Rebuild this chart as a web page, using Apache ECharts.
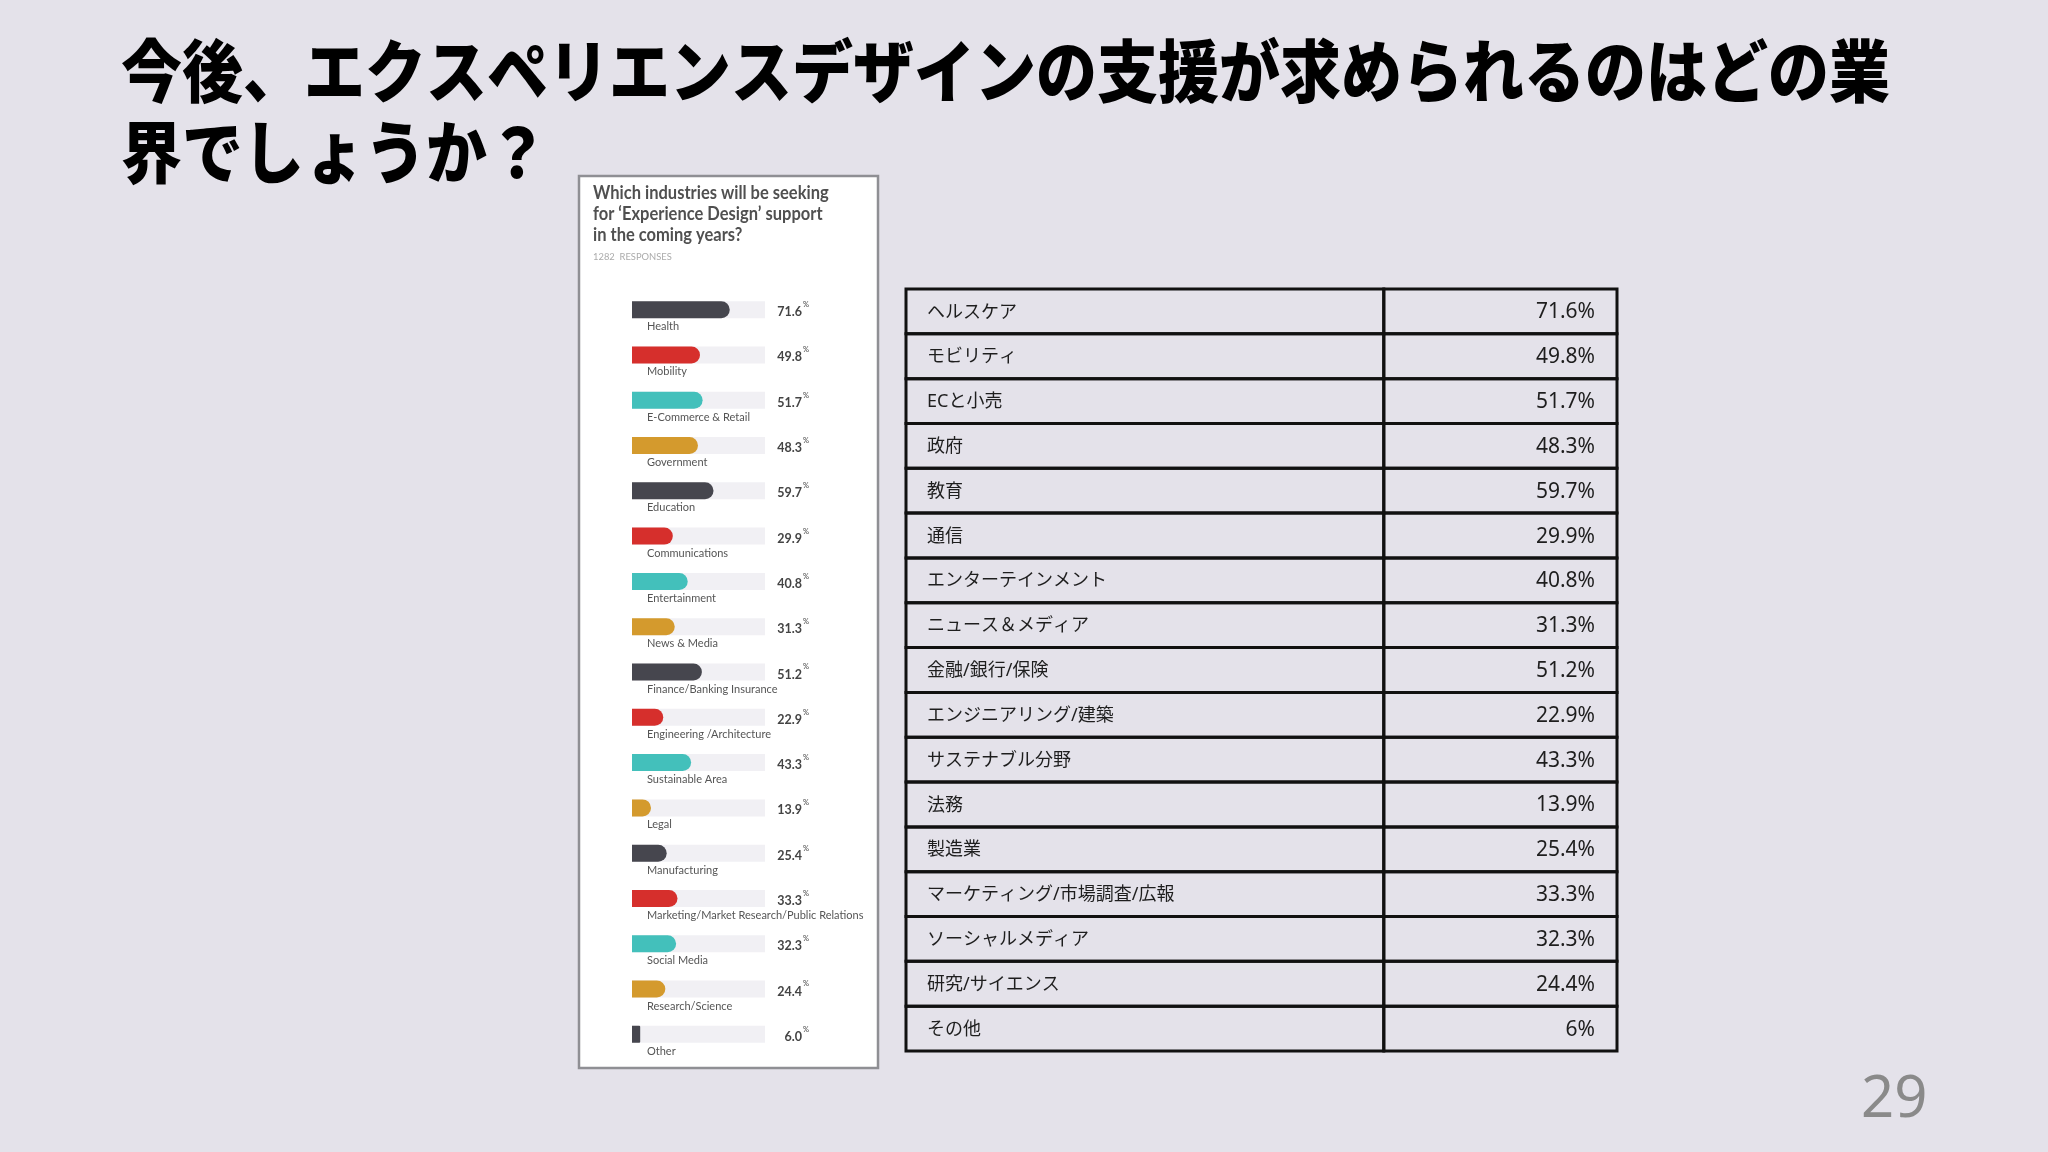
<!DOCTYPE html>
<html style="height: 100%">
<head>
<meta charset="utf-8">
<style>
  body { margin: 0; background: #e4e2ea; }
  #main { width: 2048px; height: 1152px; }
</style>
</head>
<body>
<div id="main"></div>
<script src="https://cdn.jsdelivr.net/npm/echarts@6.0.0/dist/echarts.min.js"></script>
<script type="text/javascript">
// data
var panelNames = ['Health', 'Mobility', 'E-Commerce & Retail', 'Government', 'Education',
  'Communications', 'Entertainment', 'News & Media', 'Finance/Banking Insurance',
  'Engineering /Architecture', 'Sustainable Area', 'Legal', 'Manufacturing',
  'Marketing/Market Research/Public Relations', 'Social Media', 'Research/Science', 'Other'];
var tableNames = ['ヘルスケア', 'モビリティ', 'ECと小売', '政府', '教育', '通信',
  'エンターテインメント', 'ニュース＆メディア', '金融/銀行/保険', 'エンジニアリング/建築',
  'サステナブル分野', '法務', '製造業', 'マーケティング/市場調査/広報', 'ソーシャルメディア',
  '研究/サイエンス', 'その他'];
var values = [71.6, 49.8, 51.7, 48.3, 59.7, 29.9, 40.8, 31.3, 51.2, 22.9, 43.3, 13.9, 25.4, 33.3, 32.3, 24.4, 6.0];
var barColors = ['#46464e', '#d62f2c', '#43c0bb', '#d49a2d'];

var titleLine1 = '今後、エクスペリエンスデザインの支援が求められるのはどの業';
var titleLine2 = '界でしょうか？';
var panelTitle = ['Which industries will be seeking', 'for \u2018Experience Design\u2019 support', 'in the coming years?'];
var responses = '1282  RESPONSES';
var pageNo = '29';

var splitAt = 0.672; // table divider, fraction of table width

var myChart = echarts.init(document.getElementById('main'));

function renderCell(params, api) {
  var i = api.value(1);
  var h = api.size([0, 1])[1];
  var l = api.coord([0, i]);
  var m = api.coord([splitAt, i]);
  var r = api.coord([1, i]);
  var top = l[1] - h / 2;
  var cellStyle = { fill: 'rgba(0,0,0,0)', stroke: '#111', lineWidth: 3 };
  return {
    type: 'group',
    children: [
      { type: 'rect', shape: { x: l[0], y: top, width: m[0] - l[0], height: h }, style: cellStyle },
      { type: 'rect', shape: { x: m[0], y: top, width: r[0] - m[0], height: h }, style: cellStyle },
      { type: 'text', style: { x: l[0] + 21, y: l[1] + 1, text: tableNames[i], fill: '#1e1e1e',
          fontSize: 18, fontFamily: '"Noto Sans", "Noto Sans CJK JP"', align: 'left', verticalAlign: 'middle' } },
      { type: 'text', style: { x: r[0] - 22, y: l[1] + 1, text: values[i] + '%', fill: '#1e1e1e',
          fontSize: 21, fontFamily: '"Noto Sans", "Noto Sans CJK JP"', align: 'right', verticalAlign: 'middle' } }
    ]
  };
}

// short bars are drawn square-ended, like the source
var barData = values.map(function (v, i) {
  return {
    value: v,
    itemStyle: {
      color: barColors[i % 4],
      borderRadius: v < 10 ? [0, 1, 1, 0] : [0, 9, 9, 0]
    }
  };
});

var option = {
  backgroundColor: '#e4e2ea',
  animation: false,
  graphic: [
    { type: 'text', x: 121, y: 71, scaleY: 1.12, style: { text: titleLine1, fill: '#000',
        font: '900 61px "Noto Sans CJK JP"', verticalAlign: 'middle' } },
    { type: 'text', x: 121, y: 152, scaleY: 1.12, style: { text: titleLine2, fill: '#000',
        font: '900 61px "Noto Sans CJK JP"', verticalAlign: 'middle' } },
    { type: 'rect', z: -10, shape: { x: 579, y: 176, width: 299, height: 892 },
      style: { fill: '#ffffff', stroke: '#8f8f94', lineWidth: 2.5 } },
    { type: 'text', x: 593, y: 193, scaleY: 1.1, style: { text: panelTitle[0], fill: '#505050',
        font: 'bold 16.5px Lato', verticalAlign: 'middle' } },
    { type: 'text', x: 593, y: 214, scaleY: 1.1, style: { text: panelTitle[1], fill: '#505050',
        font: 'bold 16.5px Lato', verticalAlign: 'middle' } },
    { type: 'text', x: 593, y: 235, scaleY: 1.1, style: { text: panelTitle[2], fill: '#505050',
        font: 'bold 16.5px Lato', verticalAlign: 'middle' } },
    { type: 'text', x: 593, y: 257, scaleY: 1.1, style: { text: responses, fill: '#ababab',
        font: '9.4px Lato', verticalAlign: 'middle' } },
    { type: 'text', x: 1861, y: 1100, style: { text: pageNo, fill: '#8a8a8a',
        font: '58px "Noto Sans"', verticalAlign: 'middle' } }
  ],
  grid: [
    { left: 632, top: 287, width: 133, height: 770 },
    { left: 906, top: 289, width: 711, height: 762 }
  ],
  xAxis: [
    { gridIndex: 0, type: 'value', min: 0, max: 97.4, show: false },
    { gridIndex: 1, type: 'value', min: 0, max: 1, show: false }
  ],
  yAxis: [
    {
      gridIndex: 0, type: 'category', inverse: true, data: panelNames,
      axisLine: { show: false }, axisTick: { show: false }, splitLine: { show: false },
      axisLabel: {
        inside: true, margin: 15, interval: 0, align: 'left', verticalAlign: 'top',
        lineHeight: 34, color: '#555', fontSize: 11, fontFamily: 'Lato'
      }
    },
    {
      gridIndex: 0, type: 'category', inverse: true, position: 'right', data: panelNames,
      axisLine: { show: false }, axisTick: { show: false }, splitLine: { show: false },
      axisLabel: {
        margin: 44, interval: 0, align: 'right', verticalAlign: 'middle',
        formatter: function (val, idx) {
          return '{v|' + values[idx].toFixed(1) + '}{p|%}';
        },
        rich: {
          v: { fontSize: 12.5, fontWeight: 'bold', color: '#444', fontFamily: 'Lato', lineHeight: 18, verticalAlign: 'bottom' },
          p: { fontSize: 7.5, color: '#444', fontFamily: 'Lato', verticalAlign: 'top', padding: [0, 0, 0, 1] }
        }
      }
    },
    { gridIndex: 1, type: 'category', inverse: true, data: tableNames, show: false }
  ],
  series: [
    {
      type: 'bar', xAxisIndex: 0, yAxisIndex: 0, barWidth: 17, z: 3,
      data: barData,
      showBackground: true,
      backgroundStyle: { color: '#f1f0f4' }
    },
    {
      type: 'custom', xAxisIndex: 1, yAxisIndex: 2, clip: false,
      renderItem: renderCell,
      encode: { x: 0, y: 1 },
      data: tableNames.map(function (n, i) { return [0, i]; })
    }
  ]
};

myChart.setOption(option);
</script>
</body>
</html>
